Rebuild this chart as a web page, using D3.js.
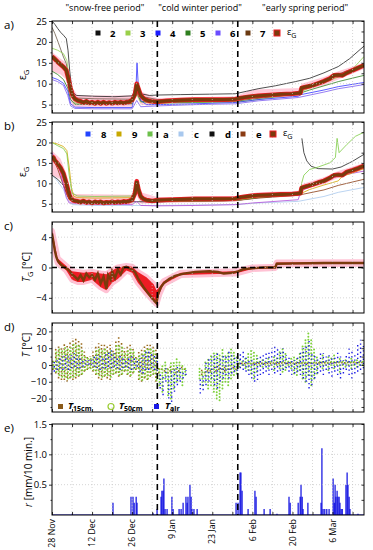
<!DOCTYPE html>
<html>
<head>
<meta charset="utf-8">
<script src="https://cdn.jsdelivr.net/npm/d3@7"></script>
<style>
  body { margin: 0; background: #fff; }
  svg { font-family: "Open Sans", "Liberation Sans", sans-serif; }
  .grid line { stroke: #c4c4c4; stroke-dasharray: 1,2; stroke-width: 0.7; }
  .axis path { display: none; }
  .axis line { stroke: #000; stroke-width: 0.8; }
  .axis text { font-size: 9.5px; fill: #000; font-family: "Open Sans", sans-serif; }
</style>
</head>
<body>
<div id="chart"></div>
<script>
// ---------- data (day offsets from 28 Nov) ----------
const T0 = Date.UTC(2013, 10, 28);
const nDays = 109;

const periodLabels = ['"snow-free period"', '"cold winter period"', '"early spring period"'];
const periodMid = [18.5, 51.7, 88.4];
const boundaryDays = [36.8, 64.9];

const weekTicks = [0, 7, 14, 21, 28, 35, 42, 49, 56, 63, 70, 77, 84, 91, 98, 105];
const dateTicks = [0, 14, 28, 42, 56, 70, 84, 98];
const dateLabels = ["28 Nov", "12 Dec", "26 Dec", "9 Jan", "23 Jan", "6 Feb", "20 Feb", "6 Mar"];

// panel a : eps_G of probes 2..7 and mean
const epsA = [[0,16.5],[0.5,16.2],[1,15.9],[2,15.2],[3,14.6],[4,14],[5,13.2],[5.8,11],[6.5,8.8],[7.2,7.2],[8,6.4],[9,6],[10,5.8],[11,5.5],[12,5.8],[13,5.4],[14,5.6],[15,5.3],[16,5.6],[17,5.3],[18,5.6],[19,5.3],[20,5.5],[21,5.3],[22,5.6],[23,5.4],[24,5.6],[25,5.4],[26,5.6],[27,5.7],[28,6.1],[29,7.5],[29.6,10],[30.2,8.8],[31,7.2],[32,6.5],[33,6.1],[34,5.9],[35,5.8],[36,5.7],[37,5.7],[40,5.9],[45,6.1],[50,6.2],[55,6.2],[60,6.2],[64,6.3],[66,6.6],[69,6.9],[72,7.1],[76,7.3],[80,7.5],[84,7.6],[86.8,7.8],[87.2,9],[89,9.3],[91,9.6],[93,10.1],[95,10.6],[97,11.2],[98.5,12],[100,12.1],[101.5,12],[103,12.6],[105,13.2],[107,13.8],[109,14.4]];
const epsABand = [[0,13,17.6],[3,12.2,16],[5,11,15],[6,7,12.5],[7.2,4.6,9],[9,4.5,7.2],[28,4.5,7.2],[29.6,7,11],[31,5,8.2],[35,4.8,7],[37,5.2,6.6],[64,5.5,7],[70,6.2,8.6],[86.8,7,9],[87.2,8.2,10],[95,9.6,11.6],[100,11,13],[109,13.5,15]];
const probe2 = [[0,25],[1,24.2],[2,23.2],[3,22.3],[4,21.6],[5,20.8],[5.6,18],[6.2,13],[6.8,9.5],[7.5,7.8],[8.5,7.2],[15,7],[22,6.9],[28,7.1],[29.6,9.4],[31,7.6],[34,7.2],[37,7.3],[45,7.4],[55,7.5],[64,7.6],[68,8.2],[72,8.8],[78,9.5],[85,10.5],[90,11.3],[95,12.6],[100,14.1],[104,16],[109,19]];
const probe3 = [[0,18.5],[2,18],[4,17.2],[5.2,15.5],[6,11],[7,6.8],[8,5.4],[15,5.2],[28,5.3],[29.6,7.5],[31,5.6],[37,5.3],[50,5.5],[64,5.6],[70,6],[80,7],[86,7.8],[90,9],[95,10.2],[100,11.6],[105,13.5],[109,16.5]];
const probe4 = [[0,11.5],[2,11],[4,10.1],[5.5,8.2],[6.5,5.2],[8,4.4],[15,4.3],[28,4.3],[29.4,10],[29.7,15],[30.2,9],[31,6],[33,5],[37,5],[50,5.2],[64,5.5],[72,6.2],[86,7],[87,7.4],[95,8.5],[100,9.3],[109,10.3]];
const probe5 = [[0,13],[2,12.2],[4,11],[5.5,9],[6.5,6.2],[8,5.1],[15,5],[28,5.2],[29.6,8],[31,5.8],[37,5.5],[50,5.6],[64,5.8],[72,6.5],[86,7.6],[90,8.5],[95,9.5],[100,10.5],[109,12]];
const probe6 = [[0,11],[2,10.5],[4,9.6],[5.5,7.2],[6.5,4.7],[8,4.1],[15,4],[28,4],[29.6,6],[31,4.5],[37,4.7],[50,5],[64,5.2],[72,5.9],[86,6.7],[95,8],[100,8.8],[109,9.8]];
const probe7 = [[0,23.5],[1,22],[2,20.2],[3,18.3],[4,16.4],[5,14.8],[6,11],[7,8],[8,6.6],[15,6.4],[28,6.3],[29.6,9.6],[31,7],[37,6.2],[50,6.3],[64,6.4],[72,7],[86,8],[87,9],[95,10.6],[100,12.3],[109,14.6]];

// panel b : eps_G of probes 8..e and mean
const epsB = [[0,16.5],[0.5,16.3],[1,15.6],[2,14.8],[3,13.8],[4,12.4],[5,10],[5.8,7.8],[6.5,6.4],[7.5,5.8],[9,5.6],[10,5.4],[11,5.7],[12,5.3],[13,5.5],[14,5.2],[15,5.5],[16,5.3],[17,5.5],[18,5.2],[19,5.4],[20,5.3],[21,5.5],[22,5.3],[23,5.5],[24,5.4],[25,5.6],[26,5.5],[27,5.7],[28,6],[29,7.6],[29.6,10.5],[30.2,8.5],[31,6.8],[32,6.2],[33,5.9],[35,5.7],[37,5.9],[40,6],[45,6.1],[50,6.2],[55,6.2],[60,6.2],[64,6.3],[66,6.6],[69,6.9],[72,7.1],[76,7.2],[80,7.3],[84,7.4],[86.8,7.6],[87.2,8.9],[89,9.3],[91,9.7],[93,10.2],[95,10.6],[97,11.3],[98.5,12],[100,12.1],[101.5,12],[103,12.8],[105,13.2],[107,13.7],[109,14.3]];
const epsBBand = [[0,12,18],[3,11,16],[5,7.5,12.5],[6.5,5,8.5],[8,4.8,7.4],[28,4.8,7.2],[29.6,7,11.3],[31,5,7.8],[37,5.2,6.6],[64,5.5,6.9],[72,6.3,7.8],[86.8,6.9,8.2],[87.2,8.3,9.8],[95,9.8,11.5],[100,11.4,13],[109,13.4,15]];
const probe8 = [[0,17.5],[1,16.2],[2,14.5],[3,12.5],[4,9.5],[5,6.5],[6,5.2],[15,4.9],[28,4.8],[29.6,5.6],[31,4.6],[37,4.5],[50,4.6],[64,4.8],[70,5.2],[86,6],[87,8.2],[95,10.5],[100,11.8],[109,13]];
const probe9 = [[0,20],[2,19.6],[4,19],[5.2,18],[6,14],[6.8,9],[7.6,6.8],[9,6.5],[15,6.4],[28,6.5],[29.6,10.2],[31,7],[34,6],[37,5.8],[50,5.9],[64,6],[72,6.7],[86,7.2],[90,8.5],[95,9.6],[100,10.6],[101.5,11.8],[104,12.3],[109,13.6]];
const probeA = [[0,20],[2,19.2],[4,18.5],[5.2,17.2],[6,12],[7,7.6],[9,6.9],[15,6.8],[28,6.9],[29.6,9.2],[31,6.6],[37,5.6],[50,5.7],[64,5.8],[72,6.6],[86.8,7.4],[87.2,10],[88,12],[90,13.4],[93,14],[97,15],[99,16.3],[99.6,21],[100.3,17.5],[103,19.5],[106,21.5],[109,22.5]];
const probeC = [[0,12],[2,10.5],[4,8.5],[5.5,6],[7,4.8],[15,4.6],[28,4.6],[37,4.6],[50,4.7],[64,4.8],[72,5.2],[86,5.6],[95,6.8],[100,7.8],[109,9]];
const probeD = [[0,12],[2,11],[4,9.5],[6,6.2],[8,5.6],[15,5.5],[28,5.5],[37,5.5],[50,5.7],[64,5.8],[72,6.5],[86.8,7.3],[87.2,null],[87.3,21],[88,17.5],[89,15.5],[90.5,14.2],[93,13.6],[98,13.5],[101,14],[105,15.4],[109,17.1]];
const probeE = [[0,16],[1,15],[2,13.5],[3,11.5],[4,9.5],[5,7.5],[6,6],[15,5.6],[28,5.5],[29.6,9],[31,6],[37,5.5],[50,5.6],[64,5.8],[72,6.4],[86,7.1],[95,8.4],[100,9.5],[109,11]];

// panel c : T_G
const tempG = [[0,4.5],[0.5,3.4],[1,2.2],[1.5,1.4],[2,0.9],[3,0.4],[4,0.1],[5,-0.1],[6,-0.4],[7,-0.9],[8,-1.2],[9,-1.6],[10,-1],[11,-1.7],[12,-0.8],[13,-1.3],[14,-1],[15,-1.6],[16,-0.8],[17,-2.1],[18,-1.2],[19,-2.8],[19.6,-1],[20.5,-1.6],[21,-0.5],[22,-1.4],[23,-0.3],[24,-0.9],[25,0],[26,0.1],[27,-0.1],[28,-0.3],[29,-0.6],[30,-1.4],[31,-2],[32,-2.6],[33,-3.1],[34,-3.6],[35,-4.1],[36,-4.5],[36.5,-4.7],[37,-3.6],[38,-2.6],[39,-2.1],[41,-1.5],[43,-1.1],[46,-0.8],[50,-0.6],[55,-0.5],[58,-0.6],[60,-0.8],[63,-0.7],[65,-0.5],[67,-0.2],[70,-0.1],[74,0],[78,0],[78.5,0.5],[85,0.55],[95,0.6],[109,0.6]];
const tempGBand = [[0,3.6,4.8],[2,0.6,1.2],[5,-0.4,0.2],[7,-1.6,-0.5],[9,-1.9,-0.6],[11,-1.9,-0.7],[14,-1.6,-0.6],[17,-2.6,-0.8],[19,-3,-0.9],[21,-2,-0.4],[23,-1.5,0],[26,-0.4,0.2],[28,-0.7,0.1],[30,-2,-0.6],[33,-3.4,-1.3],[35.5,-4.4,-2.2],[36.5,-4.8,-3],[37.5,-3.5,-2.6],[39,-2.2,-1.8],[45,-1,-0.7],[64,-0.8,-0.5],[70,-0.2,0],[78,-0.05,0.1],[78.5,0.4,0.65],[109,0.5,0.7]];

// panel d : daily min / max of temperatures
const t15Min = [-3,-5,-8,-9,-9,-10,-8,-9,-8,-7,-6,-4,-3,-2,-4,-6,-8,-9,-7,-8,-9,-6,-5,-7,-6,-4,-6,-7,-5,-3,-9,-10,-8,-9,-7,-6,-10,
  -5,-3,-4,-5,-4,-3,-5,-4,-2,-3,null,null,null,null,null,-6,-5,-4,-4,-3,-4,-3,-3,-4,-3,-3,-2,-3,
  0.4,0.5,0.3,0.5,0.4,0.2,0.5,0.6,0.5,0.4,0.6,0.5,0.7,0.6,0.5,0.7,0.8,0.6,0.7,0.5,0.6,0.8,0.7,0.6,0.5,0.7,0.8,0.7,0.8,0.9,0.8,0.7,0.9,0.8,0.9,1,0.9,0.8,1,0.9,1,0.9,1.1,1,1.1];
const t15Max = [3,10,12,11,13,12,14,16,17,15,13,8,6,5,8,12,13,12,13,11,12,9,15,17,14,10,11,12,10,6,8,9,11,12,13,12,10,
  -1,-1,-2,-2,-1,-1,-2,-2,-1,-1,null,null,null,null,null,-2,-3,-2,-2,-1,-1,0,-1,-1,-1,0,0,-1,
  1.3,1.4,1.2,1.5,1.4,1.2,1.5,1.6,1.5,1.4,1.6,1.5,1.7,1.6,1.5,1.7,1.8,1.6,1.7,1.5,1.6,1.8,1.7,1.6,1.5,1.7,1.8,1.7,1.8,1.9,1.8,1.7,1.9,1.8,1.9,2,1.9,1.8,2,1.9,2,1.9,2.1,2,2.1];
const t50Min = [-2,-4,-6,-7,-7,-8,-7,-7,-6,-6,-5,-3,-2,-2,-3,-5,-6,-7,-6,-6,-7,-5,-4,-6,-5,-3,-5,-6,-4,-2,-8,-9,-7,-8,-6,-5,-9,
  -12,-16,-8,-18,-20,-14,-10,-8,-12,-6,null,null,null,null,-8,-12,-10,-14,-12,-16,-20,-21,-14,-10,-12,-8,-6,-5,
  -1,0,-2,-3,-5,-8,-4,0,-1,0,-2,0,-3,0,-2,-4,-3,0,-2,-5,-6,-3,-8,-10,-6,-12,-8,-5,0,-2,0,-3,0,-2,0,-4,0,-1,0,-2,0,-1,0,0,0];
const t50Max = [2,8,10,9,11,10,12,13,13,12,10,6,5,4,6,10,11,10,11,9,10,7,12,13,11,8,9,10,8,5,6,7,9,10,10,10,8,
  -2,0,2,-1,1,3,5,2,0,-1,null,null,null,null,-2,-3,3,5,6,7,8,6,9,7,8,10,8,6,
  4,3,5,8,10,8,6,3,4,3,5,3,6,4,8,10,7,3,5,6,4,8,12,15,19,16,10,6,3,6,3,5,4,6,3,5,3,4,3,5,3,4,3,3,3];
const tAirMin = [-4,-3,-2,-3,-2,-3,-2,-1,-2,-2,-1,0,0,0,-1,-2,-3,-2,-2,-1,-2,-1,-2,-3,-2,-1,-2,-3,-2,-1,-4,-5,-3,-3,-2,-3,-6,
  -14,-18,-10,-20,-22,-16,-12,-10,-8,-6,null,null,null,null,-17,-15,-12,-10,-8,-12,-14,-10,-8,-6,-8,-5,-4,-6,
  -2,-3,-4,-6,-8,-10,-9,-6,-5,-4,-6,-3,-5,-4,-6,-3,-2,-4,-6,-5,-4,-6,-8,-10,-14,-12,-8,-5,-4,-6,-3,-5,-7,-4,-6,-8,-5,-3,-6,-8,-5,-4,-3,-2,-3];
const tAirMax = [2,3,4,5,6,5,6,7,6,5,4,3,3,4,5,6,6,5,7,8,9,7,5,6,5,4,5,6,4,3,4,6,8,9,8,7,5,
  -4,-6,-2,-5,-3,-2,0,-2,-4,-3,null,null,null,null,-8,-5,2,4,5,6,7,5,7,6,8,7,6,5,
  8,9,6,4,3,2,4,5,6,8,9,10,12,11,8,10,6,5,4,3,6,8,10,12,15,8,6,5,8,7,5,6,4,6,8,5,3,6,10,8,6,12,15,13,10];

// panel e : rain bursts [day, mm per 10 min]
const rain = [[7,0.02],[21.3,0.2],[27.6,0.3],[28.3,0.3],[28.7,0.2],[29.4,0.3],[29.7,0.2],[35.3,0.03],[36.7,0.1],
  [38.1,0.3],[38.4,0.4],[38.8,0.4],[39.1,0.6],[39.5,0.1],[40.2,0.1],[41.9,0.3],[42.3,0.1],[44.4,0.1],[45.1,0.1],[45.8,0.2],
  [46.8,0.3],[47.2,0.2],[47.5,0.3],[48.2,0.5],[48.6,0.3],[48.9,0.1],[49.6,0.1],[50.7,0.1],
  [64.3,0.2],[65,0.2],[65.7,0.7],[66,0.7],[66.4,0.4],[68.5,0.1],[70.9,0.4],[71.3,0.3],[74.1,0.1],[76.2,0.1],[78.6,0.02],
  [82.8,0.3],[83.2,0.2],[86,0.2],[86.7,0.3],[87,0.5],[87.4,0.3],[87.7,0.1],[89.4,0.2],
  [94,0.2],[94.3,1.1],[94.7,0.1],[95.3,0.1],[96,0.1],[96.8,0.1],
  [98.2,0.6],[98.6,0.2],[98.9,0.5],[99.2,0.3],[99.6,0.4],[99.9,0.3],[100.3,0.3],[100.6,0.2],[101,0.1],[101.4,0.1],
  [102.7,0.5],[103.1,0.7],[103.4,0.5],[103.8,0.3],[104.1,0.1],[106.9,0.02]];

// ---------- layout ----------
const W = 373, H = 550;
const x0 = 52, x1 = 364;
const panels = [
  { top: 21, bottom: 113, dom: [3, 25], major: [5, 10, 15, 20, 25], minor: [7.5, 12.5, 17.5, 22.5], lab: "a)" },
  { top: 122, bottom: 212, dom: [3, 25], major: [5, 10, 15, 20, 25], minor: [7.5, 12.5, 17.5, 22.5], lab: "b)" },
  { top: 222, bottom: 313, dom: [-6, 6], major: [-4, 0, 4], minor: [-2, 2], lab: "c)" },
  { top: 323, bottom: 412, dom: [-28, 25], major: [-20, -10, 0, 10, 20], minor: [-25, -15, -5, 5, 15], lab: "d)" },
  { top: 424, bottom: 515, dom: [0, 1.5], major: [0.5, 1.0, 1.5], minor: [0.25, 0.75, 1.25], lab: "e)" }
];

const day = d => new Date(T0 + d * 864e5);
const x = d3.scaleUtc().domain([day(0), day(nDays)]).range([x0, x1]);

const svg = d3.select("#chart").append("svg").attr("width", W).attr("height", H);

// period headers
svg.selectAll("text.period")
  .data(periodLabels)
  .join("text")
  .attr("class", "period")
  .attr("x", (d, i) => x(day(periodMid[i])))
  .attr("y", 11)
  .attr("text-anchor", "middle")
  .style("font-size", "9px")
  .text(d => d);

panels.forEach((p, i) => {
  p.y = d3.scaleLinear().domain(p.dom).range([p.bottom, p.top]);
  const g = svg.append("g");
  p.g = g;

  svg.append("clipPath").attr("id", "clip" + i)
    .append("rect").attr("x", x0).attr("y", p.top).attr("width", x1 - x0).attr("height", p.bottom - p.top);
  p.plot = g.append("g").attr("clip-path", `url(#clip${i})`);

  // grid
  const grid = g.append("g").attr("class", "grid");
  grid.selectAll("line.v").data(weekTicks.slice(1)).join("line")
    .attr("x1", d => x(day(d))).attr("x2", d => x(day(d)))
    .attr("y1", p.top).attr("y2", p.bottom);
  grid.selectAll("line.h").data(p.major.filter(v => v > p.dom[0] && v < p.dom[1])).join("line")
    .attr("x1", x0).attr("x2", x1)
    .attr("y1", d => p.y(d)).attr("y2", d => p.y(d));

  // left axis (outward), right ticks (inward)
  g.append("g").attr("class", "axis")
    .attr("transform", `translate(${x0},0)`)
    .call(d3.axisLeft(p.y).tickValues(p.major).tickSize(3).tickPadding(2)
      .tickFormat(i === 4 ? d3.format(".1f") : d3.format("d")));
  g.append("g").attr("class", "axis")
    .attr("transform", `translate(${x0},0)`)
    .call(d3.axisLeft(p.y).tickValues(p.minor).tickSize(1.5).tickFormat(""));
  g.append("g").attr("class", "axis")
    .attr("transform", `translate(${x1},0)`)
    .call(d3.axisLeft(p.y).tickValues(p.major.concat(p.minor)).tickSize(2.5).tickFormat(""));

  // top & bottom ticks inward
  g.append("g").attr("class", "axis")
    .attr("transform", `translate(0,${p.top})`)
    .call(d3.axisBottom(x).tickValues(weekTicks.map(day)).tickSize(3).tickFormat(""));
  g.append("g").attr("class", "axis")
    .attr("transform", `translate(0,${p.bottom})`)
    .call(d3.axisTop(x).tickValues(weekTicks.map(day)).tickSize(3).tickFormat(""));

  // panel letter
  svg.append("text").attr("x", 4).attr("y", p.top + 8)
    .style("font-size", "11.5px").text(p.lab);
});

// ---------- helpers ----------
const lineFor = y => d3.line().defined(d => d[1] != null).x(d => x(day(d[0]))).y(d => y(d[1]));
const bandFor = y => d3.area().x(d => x(day(d[0]))).y0(d => y(d[1])).y1(d => y(d[2]));

function thin(p, data, color, w) {
  p.plot.append("path").datum(data)
    .attr("fill", "none").attr("stroke", color).attr("stroke-width", w || 0.8)
    .attr("d", lineFor(p.y));
}
function meanBand(p, band) {
  p.plot.append("path").datum(band)
    .attr("fill", "#ffb8cc").attr("opacity", 0.75)
    .attr("d", bandFor(p.y));
}
function meanLine(p, data) {
  p.plot.append("path").datum(data)
    .attr("fill", "none").attr("stroke", "#ee1c24").attr("stroke-width", 4.6)
    .attr("stroke-linejoin", "round").attr("d", lineFor(p.y));
  p.plot.append("path").datum(data)
    .attr("fill", "none").attr("stroke", "#7b3a0c").attr("stroke-width", 3.2)
    .attr("d", lineFor(p.y));
}
// text with a subscript part, subscript shifted with dy
function subText(t, main, sub, size, italic) {
  const m = t.append("tspan").text(main);
  if (italic) m.style("font-style", "italic");
  t.append("tspan").attr("dy", 2.5).style("font-size", size + "px").text(sub);
}

// ---------- panel a ----------
const pa = panels[0];
meanBand(pa, epsABand);
thin(pa, probe2, "#222");
thin(pa, probe7, "#6b5a4a");
thin(pa, probe3, "#8fd14f");
thin(pa, probe5, "#2f7f1f");
thin(pa, probe4, "#3333ff");
thin(pa, probe6, "#7b5cf0");
meanLine(pa, epsA);

const legA = [["2", "#111"], ["3", "#9ad04a"], ["4", "#1a1aff"], ["5", "#2f7f1f"], ["6", "#6a4cff"], ["7", "#6b3a12"]];
legA.forEach((d, i) => {
  const lx = 98 + i * 30;
  svg.append("rect").attr("x", lx - 2.5).attr("y", 30.5).attr("width", 5).attr("height", 5).attr("fill", d[1]);
  svg.append("text").attr("x", lx + 12).attr("y", 37).style("font-size", "9.5px").style("font-weight", "bold").text(d[0]);
});

// ---------- panel b ----------
const pb = panels[1];
meanBand(pb, epsBBand);
thin(pb, probeC, "#a9c9ee");
thin(pb, probeD, "#222");
thin(pb, probeE, "#8a3b12");
thin(pb, probe8, "#b04ad8");
thin(pb, probe9, "#d2a400");
thin(pb, probeA, "#7ccc44");
meanLine(pb, epsB);

const legB = [["8", "#2244ff"], ["9", "#c8a800"], ["a", "#6cc04a"], ["c", "#a8c8ee"], ["d", "#111"], ["e", "#8a3b12"]];
legB.forEach((d, i) => {
  const lx = 88 + i * 31;
  svg.append("rect").attr("x", lx - 2.5).attr("y", 131.5).attr("width", 5).attr("height", 5).attr("fill", d[1]);
  svg.append("text").attr("x", lx + 13).attr("y", 138).style("font-size", "9.5px").style("font-weight", "bold").text(d[0]);
});

// eps_G legend entries
[[277, 33], [273, 134]].forEach(([lx, ly]) => {
  svg.append("rect").attr("x", lx - 3).attr("y", ly - 3).attr("width", 6).attr("height", 6)
    .attr("fill", "#7b3a0c").attr("stroke", "#ee1c24").attr("stroke-width", 1);
  const t = svg.append("text").attr("x", lx + 10).attr("y", ly + 2).style("font-size", "9px");
  subText(t, "ε", "G", 7, false);
});

// ---------- panel c ----------
const pc = panels[2];
pc.plot.append("path").datum(tempGBand)
  .attr("fill", "#ee1c24").attr("stroke", "#ffc2d4").attr("stroke-width", 6)
  .attr("stroke-linejoin", "round").attr("d", bandFor(pc.y));
pc.plot.append("path").datum(tempGBand)
  .attr("fill", "#ee1c24").attr("d", bandFor(pc.y));
pc.plot.append("path").datum(tempG)
  .attr("fill", "none").attr("stroke", "#7b3a0c").attr("stroke-width", 2.4)
  .attr("d", lineFor(pc.y));
pc.g.append("line")
  .attr("x1", x0).attr("x2", x1).attr("y1", pc.y(0)).attr("y2", pc.y(0))
  .attr("stroke", "#000").attr("stroke-width", 1.4).attr("stroke-dasharray", "5,4");

// ---------- panel d ----------
const pd = panels[3];
function dailySpread(mins, maxs, off, color, w, dash, cap) {
  const rows = mins.map((v, i) => [i, v, maxs[i]]).filter(d => d[1] != null);
  pd.plot.append("g").selectAll("line").data(rows).join("line")
    .attr("x1", d => x(day(d[0] + off))).attr("x2", d => x(day(d[0] + off)))
    .attr("y1", d => pd.y(d[1])).attr("y2", d => pd.y(d[2]))
    .attr("stroke", color).attr("stroke-width", w)
    .attr("stroke-dasharray", dash).attr("stroke-linecap", cap);
}
dailySpread(t15Min, t15Max, 0.3, "#9a6a1c", 1.6, "1.6,2.2", "butt");
dailySpread(t50Min, t50Max, 0.55, "#7fd13b", 2, "0,3.2", "round");
dailySpread(tAirMin, tAirMax, 0.8, "#1a1ae6", 1.4, "1.4,2.8", "butt");

// legend d
svg.append("rect").attr("x", 58).attr("y", 404).attr("width", 5).attr("height", 5).attr("fill", "#8a5a1a");
svg.append("circle").attr("cx", 111).attr("cy", 406.5).attr("r", 3).attr("fill", "none").attr("stroke", "#9acd32").attr("stroke-width", 1.2);
svg.append("rect").attr("x", 154).attr("y", 404).attr("width", 5).attr("height", 5).attr("fill", "#1a1ae6");
[[68, "15cm"], [119, "50cm"], [165, "air"]].forEach(([lx, sub]) => {
  const t = svg.append("text").attr("x", lx).attr("y", 408.5).style("font-size", "9.5px").style("font-weight", "bold");
  subText(t, "T", sub, 7, true);
});

// ---------- panel e ----------
const pe = panels[4];
pe.plot.append("line")
  .attr("x1", x0).attr("x2", x1).attr("y1", pe.y(0)).attr("y2", pe.y(0))
  .attr("stroke", "#1a1ae6").attr("stroke-width", 1.2);
pe.plot.selectAll("line.bar").data(rain).join("line")
  .attr("class", "bar")
  .attr("x1", d => x(day(d[0]))).attr("x2", d => x(day(d[0])))
  .attr("y1", pe.y(0)).attr("y2", d => pe.y(d[1]))
  .attr("stroke", "#0a0ae0").attr("stroke-width", 1.2);

// date labels
svg.selectAll("text.date").data(dateTicks).join("text")
  .attr("class", "date")
  .attr("transform", d => `translate(${x(day(d)) + 3.2},${pe.bottom + 4}) rotate(-90)`)
  .attr("text-anchor", "end")
  .style("font-size", "8.8px")
  .text((d, i) => dateLabels[i]);

// period boundaries + frames
panels.forEach(p => {
  p.g.selectAll("line.bound").data(boundaryDays).join("line")
    .attr("class", "bound")
    .attr("x1", d => x(day(d))).attr("x2", d => x(day(d)))
    .attr("y1", p.top).attr("y2", p.bottom)
    .attr("stroke", "#000").attr("stroke-width", 1.6).attr("stroke-dasharray", "6,4");
  p.g.append("rect").attr("x", x0).attr("y", p.top).attr("width", x1 - x0).attr("height", p.bottom - p.top)
    .attr("fill", "none").attr("stroke", "#000").attr("stroke-width", 1);
});

// y titles
function ytitle(cx, cy, parts) {
  const t = svg.append("text").attr("transform", `translate(${cx},${cy}) rotate(-90)`)
    .attr("text-anchor", "middle").style("font-size", "10px");
  parts.forEach(([s, style]) => {
    const ts = t.append("tspan").text(s);
    if (style === "i") ts.style("font-style", "italic");
    if (style === "sub") ts.attr("dy", 2.5).style("font-size", "7.5px");
    if (style === "up") ts.attr("dy", -2.5);
  });
}
ytitle(26, 75, [["ε", ""], ["G", "sub"]]);
ytitle(26, 172, [["ε", ""], ["G", "sub"]]);
ytitle(30, 267, [["T", "i"], ["G", "sub"], [" [°C]", "up"]]);
ytitle(30, 345, [["T", "i"], [" [°C]", ""]]);
ytitle(32, 472, [["r", "i"], [" [mm/10 min.]", ""]]);
</script>
</body>
</html>
